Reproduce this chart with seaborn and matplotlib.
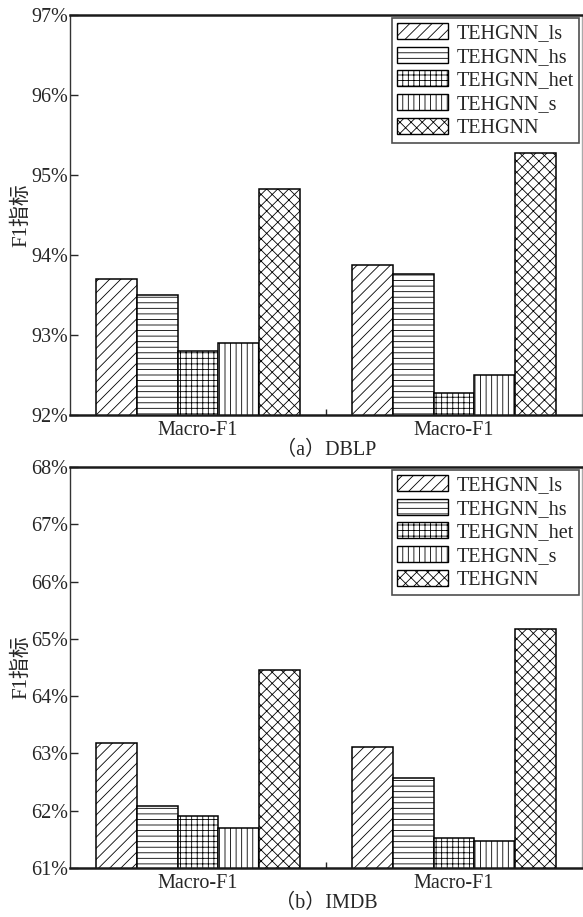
import numpy as np
import pandas as pd
import matplotlib
matplotlib.use("Agg")
import matplotlib.pyplot as plt
import seaborn as sns
from matplotlib.patches import Patch
from matplotlib.ticker import FuncFormatter, MultipleLocator, FixedLocator

# ---------------- data ----------------
models = ["TEHGNN_ls", "TEHGNN_hs", "TEHGNN_het", "TEHGNN_s", "TEHGNN"]
group_labels = ["Macro-F1", "Macro-F1"]

dblp_group1 = [93.70, 93.50, 92.80, 92.90, 94.82]
dblp_group2 = [93.88, 93.76, 92.27, 92.50, 95.27]
imdb_group1 = [63.19, 62.09, 61.90, 61.69, 64.46]
imdb_group2 = [63.11, 62.57, 61.53, 61.47, 65.18]

dblp_ylim = (92, 97)
imdb_ylim = (61, 68)
captions = ["（a）DBLP", "（b）IMDB"]
ylabel = "F1指标"

hatches = ["///", "---", "+++", "|||", "xxx"]

# ---------------- style ----------------
sns.set_style("ticks")
plt.rcParams["font.family"] = ["Liberation Serif", "Noto Sans CJK SC", "DejaVu Sans"]
plt.rcParams["hatch.linewidth"] = 0.6
plt.rcParams["hatch.color"] = "#555555"
FS = 14.5
LFS = 14.5

fig = plt.figure(figsize=(5.83, 9.17), dpi=100)
ax_top = fig.add_axes([70 / 583, 1 - 415 / 917, 512 / 583, 400 / 917])
ax_bot = fig.add_axes([70 / 583, 1 - 868 / 917, 512 / 583, 401 / 917])


def make_df(g1, g2):
    rows = []
    for gi, vals in enumerate([g1, g2]):
        for m, v in zip(models, vals):
            rows.append({"group": f"g{gi}", "model": m, "value": v})
    return pd.DataFrame(rows)


def draw(ax, g1, g2, ylim, caption):
    df = make_df(g1, g2)
    sns.barplot(data=df, x="group", y="value", hue="model", order=["g0", "g1"],
                hue_order=models, palette=["white"] * len(models), saturation=1,
                edgecolor="black", linewidth=1.1, width=0.8, legend=False, ax=ax)
    for cont, h in zip(ax.containers, hatches):
        for bar in cont:
            bar.set_hatch(h)
            try:
                bar.set_hatchcolor("#555555")
            except Exception:
                pass
    ax.set_xlim(-0.5, 1.5)
    ax.set_ylim(*ylim)
    ax.yaxis.set_major_locator(MultipleLocator(1))
    ax.yaxis.set_major_formatter(FuncFormatter(lambda v, p: f"{v:.0f}%"))
    ax.set_xticks([0, 1])
    ax.set_xticklabels(group_labels, fontsize=FS)
    ax.xaxis.set_minor_locator(FixedLocator([0.5]))
    ax.tick_params(axis="x", which="major", length=0, pad=4)
    ax.tick_params(axis="x", which="minor", direction="in", length=4, width=1)
    ax.tick_params(axis="y", which="major", direction="in", length=6, width=1,
                   labelsize=FS, pad=1.5)
    ax.set_xlabel(caption, fontsize=FS, labelpad=1)
    ax.set_ylabel(ylabel, fontsize=15, labelpad=0)
    for s in ["top", "bottom"]:
        ax.spines[s].set_linewidth(1.8)
        ax.spines[s].set_color("#1a1a1a")
    ax.spines["left"].set_linewidth(1.0)
    ax.spines["left"].set_color("#333333")
    ax.spines["right"].set_linewidth(1.0)
    ax.spines["right"].set_color("#aaaaaa")

    handles = [Patch(facecolor="white", edgecolor="black", hatch=h, linewidth=1.0, label=m)
               for m, h in zip(models, hatches)]
    leg = ax.legend(handles=handles, loc="upper right", fontsize=LFS,
                    handlelength=2.5, handleheight=0.85, handletextpad=0.45,
                    labelspacing=0.18, borderpad=0.25, borderaxespad=0.15,
                    fancybox=False, frameon=True)
    leg.get_frame().set_edgecolor("#222222")
    leg.get_frame().set_linewidth(1.2)


draw(ax_top, dblp_group1, dblp_group2, dblp_ylim, captions[0])
draw(ax_bot, imdb_group1, imdb_group2, imdb_ylim, captions[1])

fig.savefig("out.png", dpi=100, facecolor="white")
